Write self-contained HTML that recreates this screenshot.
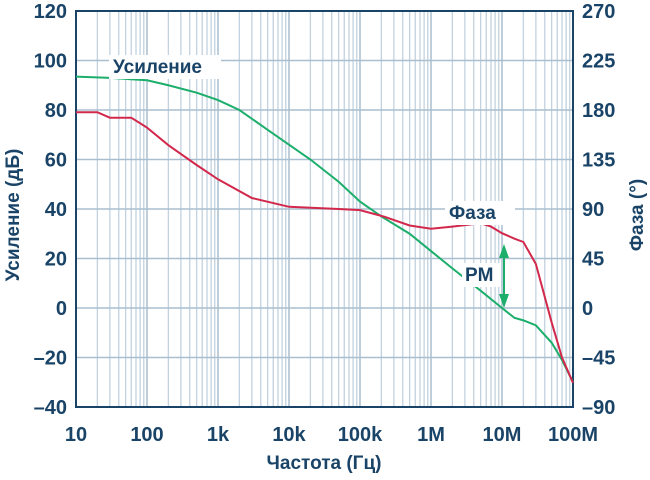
<!DOCTYPE html>
<html><head><meta charset="utf-8"><style>
body{margin:0;background:#fff}
svg text{font-family:"Liberation Sans",sans-serif;font-weight:bold;fill:#1a4467}
</style></head><body>
<svg id="c" width="650" height="475" viewBox="0 0 650 475" xmlns="http://www.w3.org/2000/svg">
<g id="grid"></g>
<g id="marks"></g>
<g id="labels"></g>
</svg>
<script>
const freqGain=[10,30,100,200,500,1e3,2e3,5e3,1e4,2e4,5e4,1e5,2e5,5e5,1e6,2e6,5e6,1e7,1.5e7,2e7,3e7,5e7,7e7,1e8];
const gainDb=[93.5,93,92,90,87,84,80,72,66,60,51,43,37,30,23,16,7,0,-4,-5,-7,-14,-21,-30];
const freqPhase=[10,20,30,60,100,200,500,1e3,3e3,1e4,5e4,1e5,2.2e5,5e5,1e6,2e6,5e6,7e6,1e7,1.5e7,2e7,3e7,5e7,7e7,1e8];
const phaseDeg=[178,178,173,173,164,148,130,117,100,92,90,89,83,75,72,74,77,74,68,63,60,40,-13,-45,-68];
const xTicks=["10","100","1k","10k","100k","1M","10M","100M"];
const yLeftTicks=[120,100,80,60,40,20,0,-20,-40];
const yRightTicks=[270,225,180,135,90,45,0,-45,-90];
const L=76,R=573,T=11,B=407;
const NS="http://www.w3.org/2000/svg";
function x(f){return L+(Math.log10(f)-1)/7*(R-L);}
function yDb(v){return T+(120-v)/160*(B-T);}
function yPh(p){return yDb(p/2.25);}
function el(t,a,p){const e=document.createElementNS(NS,t);for(const k in a)e.setAttribute(k,a[k]);p.appendChild(e);return e;}
const g=document.getElementById('grid'),m=document.getElementById('marks'),lb=document.getElementById('labels');
for(let d=1;d<8;d++)for(let k=2;k<=9;k++){const xx=x(k*Math.pow(10,d));
 const ln=el('line',{x1:xx,x2:xx,y1:T,y2:B,stroke:'#c2d2de','stroke-width':1.3},g);
 
 }
xTicks.forEach((t,i)=>{const xx=x(Math.pow(10,i+1));
 const ln=el('line',{x1:xx,x2:xx,y1:T,y2:B,stroke:'#a9bfcf','stroke-width':1.5},g);
 
 
 const tx=el('text',{x:xx,y:441,'text-anchor':'middle','font-size':20},lb);tx.textContent=t;
 
 });
yLeftTicks.forEach((v,i)=>{const yy=yDb(v);
 const ln=el('line',{x1:L,x2:R,y1:yy,y2:yy,stroke:'#a9bfcf','stroke-width':1.5},g);
 
 
 const tx=el('text',{x:67,y:yy+7,'text-anchor':'end','font-size':20},lb);tx.textContent=v<0?'\u2013'+(-v):v;
 
 
 const p=yRightTicks[i];
 const t2=el('text',{x:582,y:yPh(p)+7,'text-anchor':'start','font-size':20},lb);t2.textContent=p<0?'\u2013'+(-p):p;
 
 });
const fr=el('rect',{x:L,y:T,width:R-L,height:B-T,fill:'none',stroke:'#1a4467','stroke-width':2},g);


const pg=el('polyline',{points:freqGain.map((f,i)=>x(f)+','+yDb(gainDb[i])).join(' '),fill:'none',stroke:'#1cae6a','stroke-width':2},m);


const pp=el('polyline',{points:freqPhase.map((f,i)=>x(f)+','+yPh(phaseDeg[i])).join(' '),fill:'none',stroke:'#d2284c','stroke-width':2},m);


const ax=504;
const a1=el('line',{x1:ax,x2:ax,y1:252,y2:300,stroke:'#1cae6a','stroke-width':2},m);


const h1=el('polygon',{points:`${ax-5},258 ${ax+5},258 ${ax},244`,fill:'#1cae6a'},m);


const h2=el('polygon',{points:`${ax-5},294 ${ax+5},294 ${ax},308`,fill:'#1cae6a'},m);


function lab(txt,a,name,bg){
 if(bg){const r=el('rect',bg,lb);r.setAttribute('fill','#fff');
  
  }
 const t=el('text',a,lb);t.textContent=txt;
 
 }
lab('Усиление',{x:113,y:73,'font-size':19},'gain-label',{x:109,y:55,width:112,height:24});
lab('Фаза',{x:449,y:219,'font-size':19},'phase-label',{x:445,y:201,width:70,height:24});
lab('PM',{x:465,y:281,'font-size':19},'pm-label',{x:462,y:263,width:38,height:24});
lab('Частота (Гц)',{x:324,y:469,'text-anchor':'middle','font-size':19},'x-axis-title');
lab('Усиление (дБ)',{x:0,y:0,'text-anchor':'middle','font-size':19,transform:'translate(19,215) rotate(-90)'},'y-left-axis-title');
lab('Фаза (°)',{x:0,y:0,'text-anchor':'middle','font-size':19,transform:'translate(643,215) rotate(-90)'},'y-right-axis-title');
</script>
</body></html>
